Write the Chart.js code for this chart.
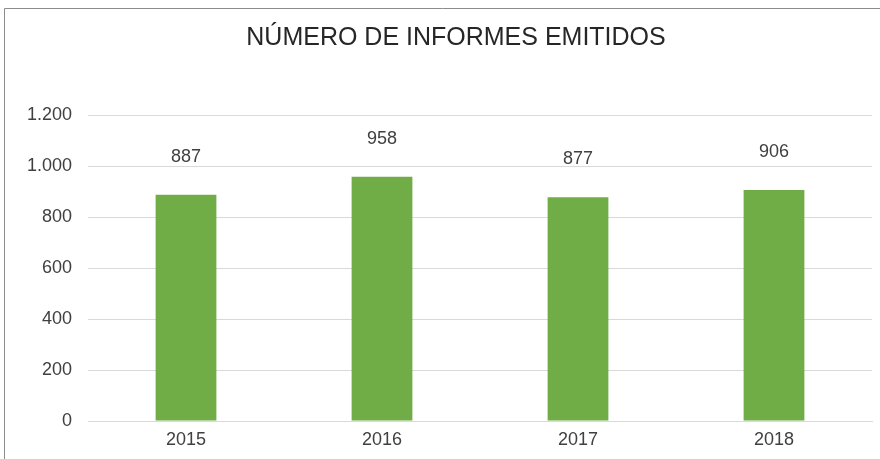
<!DOCTYPE html>
<html>
<head>
    <title>Número de informes emitidos</title>
    <script src="https://cdn.jsdelivr.net/npm/chart.js"></script>
    <style>
        body { margin: 0; background: #fff; }
        #wrap { width: 880px; height: 459px; position: relative; }
    </style>
</head>
<body>
    <div id="wrap"><canvas id="informesChart"></canvas></div>

    <script>
        const years = ["2015", "2016", "2017", "2018"];
        const informes = [887, 958, 877, 906];
        const yTicks = [0, 200, 400, 600, 800, 1000, 1200];
        const chartTitle = 'NÚMERO DE INFORMES EMITIDOS';

        const fontFamily = "'Liberation Sans', Arial, sans-serif";
        const textColor = '#404040';

        // miles con punto, como en el original
        const fmt = v => String(v).replace(/\B(?=(\d{3})+(?!\d))/g, '.');

        // marco gris y título (el título va algo desplazado a la derecha, como en el original)
        const framePlugin = {
            id: 'frame',
            beforeDraw(chart) {
                const c = chart.ctx;
                c.save();
                c.strokeStyle = '#8c8c8c';
                c.lineWidth = 1;
                c.beginPath();
                c.moveTo(4.5, chart.height);
                c.lineTo(4.5, 8.5);
                c.lineTo(chart.width, 8.5);
                c.stroke();
                c.font = '25px ' + fontFamily;
                c.fillStyle = '#262626';
                c.textAlign = 'center';
                c.textBaseline = 'middle';
                c.fillText(chartTitle, 456, 38);
                c.restore();
            }
        };

        // etiquetas de valor encima de cada barra
        const valueLabels = {
            id: 'valueLabels',
            afterDatasetsDraw(chart) {
                const c = chart.ctx;
                const meta = chart.getDatasetMeta(0);
                c.save();
                c.font = '18px ' + fontFamily;
                c.fillStyle = textColor;
                c.textAlign = 'center';
                c.textBaseline = 'middle';
                meta.data.forEach((bar, i) => {
                    c.fillText(fmt(informes[i]), bar.x, bar.y - 38);
                });
                c.restore();
            }
        };

        const ctx = document.getElementById('informesChart').getContext('2d');
        new Chart(ctx, {
            type: 'bar',
            data: {
                labels: years,
                datasets: [{
                    data: informes,
                    backgroundColor: '#70ad47',
                    categoryPercentage: 1,
                    barPercentage: 0.31
                }]
            },
            options: {
                responsive: true,
                maintainAspectRatio: false,
                animation: false,
                layout: { padding: { left: 8, right: 8, top: 115, bottom: 8 } },
                scales: {
                    x: {
                        afterFit(axis) { axis.height = 30; },
                        grid: { display: false, drawTicks: false },
                        border: { display: true, color: '#d9d9d9' },
                        ticks: { color: textColor, font: { size: 18, family: fontFamily }, padding: 8 }
                    },
                    y: {
                        min: 0,
                        max: 1200,
                        afterFit(axis) { axis.width = 80; },
                        afterBuildTicks(axis) { axis.ticks = yTicks.map(v => ({ value: v })); },
                        grid: { color: '#d9d9d9', drawTicks: false },
                        border: { display: false },
                        ticks: {
                            color: textColor,
                            font: { size: 18, family: fontFamily },
                            padding: 16,
                            callback: v => fmt(v)
                        }
                    }
                },
                plugins: {
                    legend: { display: false },
                    tooltip: { enabled: false },
                    title: { display: false }
                }
            },
            plugins: [framePlugin, valueLabels]
        });
    </script>
</body>
</html>
